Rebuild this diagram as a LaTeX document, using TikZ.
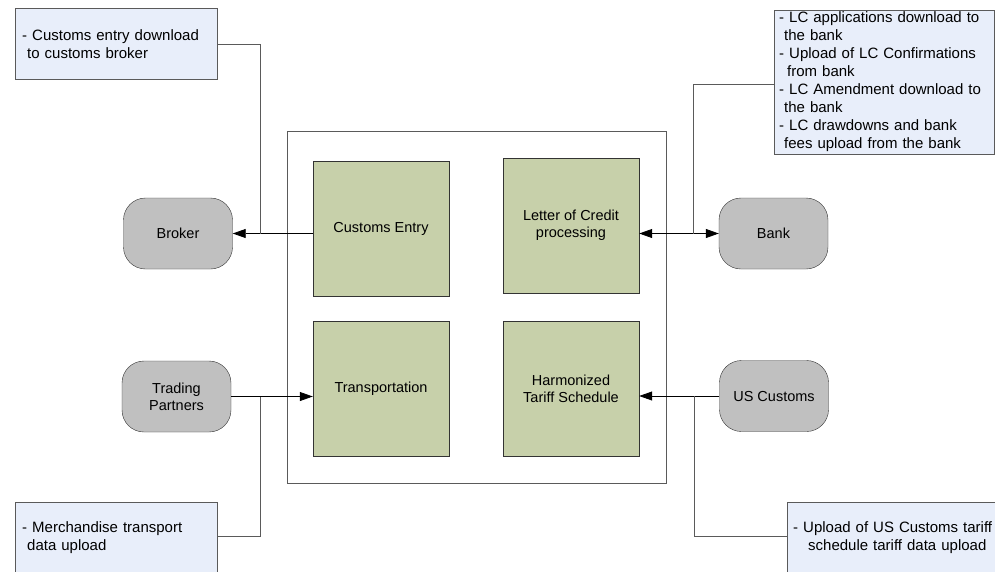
\documentclass[tikz,border=0pt]{standalone}
\usepackage{fontspec}
\setmainfont{Liberation Sans}
\usepackage{tikz}
\usetikzlibrary{arrows.meta,positioning}

\definecolor{olivebox}{RGB}{199,208,170}
\definecolor{notebox}{RGB}{232,238,250}
\definecolor{partygray}{RGB}{192,192,192}
\definecolor{edgegray}{RGB}{90,90,90}

\begin{document}
\begin{tikzpicture}
[x=1pt,y=-1pt,>={Triangle[length=13pt,width=9pt]},
 func/.style={rectangle,draw=black!80,fill=olivebox,minimum width=136pt,minimum height=135pt,inner sep=0pt,align=center,font=\fontsize{14.5}{17}\selectfont},
 party/.style={rectangle,rounded corners=22pt,draw=black!80,fill=partygray,minimum width=109pt,minimum height=71pt,inner sep=0pt,align=center,font=\fontsize{14.5}{17}\selectfont},
 note/.style={rectangle,draw=edgegray,fill=notebox,inner xsep=7pt,inner ysep=4pt,align=left,font=\fontsize{15}{18}\selectfont},
 link/.style={draw=edgegray,line width=0.8pt}]
            \clip (0,0) rectangle (995,571);
            % frame and functions
            \draw[edgegray,line width=1pt] (287,131) rectangle (666,483);
            \node[func] (customs) at (381,228.5) {Customs Entry};
            \node[func] (credit) at (571,225.5) {Letter of Credit\\processing};
            \node[func] (transport) at (381,388.5) {Transportation};
            \node[func] (tariff) at (571,388.5) {Harmonized\\Tariff Schedule};
            % parties
            \node[party] (broker) at (178,233.5) {Broker};
            \node[party] (bank) at (773.5,233.5) {Bank};
            \node[party] (trading) at (176.5,396.5) {Trading\\Partners};
            \node[party] (uscustoms) at (774,396) {US Customs};
            % notes
            \node[note,text width=188pt,minimum height=71pt,anchor=west] (n1) at (15,44) {- Customs entry download\\\hspace*{5pt}to customs broker};
            \node[note,text width=210pt,minimum height=144pt,anchor=west,inner xsep=5pt,inner ysep=1pt] (n2) at (774,82) {- LC applications download to\\\hspace*{5pt}the bank\\- Upload of LC Confirmations\\\hspace*{8pt}from bank\\- LC Amendment download to\\\hspace*{5pt}the bank\\- LC drawdowns and bank\\\hspace*{5pt}fees upload from the bank};
            \node[note,text width=188pt,minimum height=70pt,anchor=north west] (n3) at (15,502) {- Merchandise transport\\\hspace*{5pt}data upload};
            \node[note,text width=215pt,minimum height=70pt,anchor=north west,inner xsep=6pt] (n4) at (787,502) {- Upload of US Customs tariff\\\hspace*{15pt}schedule tariff data upload};
            % flows
            \draw[->,line width=0.8pt] (customs.west |- broker.east) -- (broker.east);
            \draw[<->,line width=0.8pt] (credit.east |- bank.west) -- (bank.west);
            \draw[->,line width=0.8pt] (trading.east) -- (transport.west |- trading.east);
            \draw[->,line width=0.8pt] (uscustoms.west) -- (tariff.east |- uscustoms.west);
            % note leaders
            \coordinate (j1) at (260,233.5);
            \coordinate (j2) at (693,233.5);
            \coordinate (j3) at (260,396.5);
            \coordinate (j4) at (694,396);
            \draw[link] (n1.east) -| (j1);
            \draw[link] (n2.west |- 0,84) -| (j2);
            \draw[link] (n3.north east) ++(0,34) -| (j3);
            \draw[link] (n4.north west) ++(0,34) -| (j4);
\end{tikzpicture}
\end{document}
